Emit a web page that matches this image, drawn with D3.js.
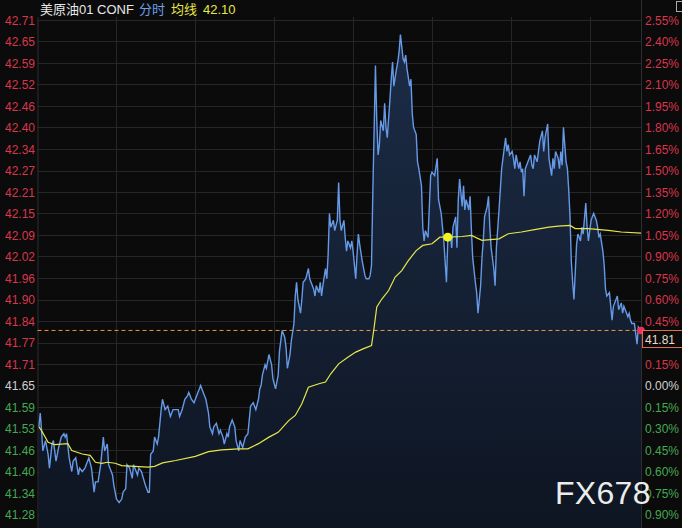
<!DOCTYPE html>
<html><head><meta charset="utf-8">
<script src="https://cdn.jsdelivr.net/npm/d3@7/dist/d3.min.js"></script>
<style>
html,body{margin:0;padding:0;background:#0b0b0c;}
svg{display:block;}
text{font-family:"Liberation Sans",Arial,sans-serif;}
</style></head>
<body>
<svg id="chart" width="682" height="528"></svg>
<script>
// ---- data ----
const prevClose = 41.65;
const lastPrice = 41.81;
const title = "美原油01 CONF";
const legendLine = "分时";
const legendAvg = "均线";
const legendAvgValue = "42.10";

const times = [1,2,3,4,6,8,9,11,12,14,16,18,20,21,22,24,26,27,29,31,32,34,36,37,39,41,43,44,46,48,49,50,51,53,54,57,58,60,62,64,65,67,68,70,72,73,76,77,79,82,84,85,86,88,89,91,92,94,95,97,99,101,103,105,107,108,110,112,114,115,117,119,121,123,124,126,128,130,131,133,134,136,138,139,141,142,144,145,146,148,150,151,153,154,156,158,160,161,162,164,166,168,169,170,171,173,174,176,178,179,181,183,184,186,188,189,190,192,193,195,196,197,198,200,201,202,204,206,207,208,210,211,212,214,215,216,217,219,220,221,222,223,225,226,228,229,230,231,233,234,235,236,238,239,240,242,243,244,245,247,248,249,250,252,253,254,255,257,258,259,260,261,263,264,265,266,268,269,270,271,273,274,275,276,278,279,280,281,283,284,285,286,288,289,290,292,293,294,295,297,298,299,300,302,304,305,307,309,310,311,312,314,315,316,318,319,320,321,323,324,325,326,328,329,330,331,333,334,335,337,338,339,340,342,343,344,345,347,348,349,351,352,353,354,356,357,358,359,361,362,363,364,366,367,368,369,370,371,373,375,376,377,378,380,381,382,384,385,386,388,389,391,392,393,394,396,397,398,399,400,402,403,404,405,406,407,408,409,410,411,413,414,415,417,418,419,421,422,423,425,426,427,428,430,431,432,433,435,436,437,438,440,441,442,444,445,446,447,449,450,451,452,454,455,456,457,459];
const prices = [41.53,41.57,41.52,41.46,41.49,41.45,41.41,41.48,41.49,41.43,41.47,41.50,41.51,41.50,41.51,41.44,41.40,41.43,41.44,41.39,41.41,41.40,41.41,41.42,41.44,41.41,41.34,41.37,41.37,41.42,41.46,41.50,41.46,41.48,41.42,41.39,41.36,41.32,41.31,41.32,41.34,41.35,41.42,41.41,41.38,41.42,41.39,41.41,41.40,41.36,41.34,41.34,41.45,41.46,41.50,41.48,41.50,41.58,41.61,41.58,41.59,41.56,41.58,41.58,41.58,41.56,41.58,41.61,41.62,41.63,41.61,41.60,41.62,41.64,41.65,41.63,41.61,41.57,41.53,41.51,41.53,41.54,41.51,41.52,41.50,41.48,41.51,41.50,41.53,41.55,41.53,41.49,41.46,41.49,41.47,41.50,41.51,41.55,41.59,41.60,41.58,41.61,41.64,41.65,41.68,41.71,41.70,41.74,41.71,41.67,41.64,41.68,41.75,41.81,41.79,41.76,41.70,41.74,41.78,41.83,41.91,41.95,41.90,41.86,41.90,41.95,41.96,41.99,41.96,41.95,41.93,41.91,41.94,41.92,41.95,41.91,41.94,41.99,41.96,42.03,42.15,42.11,42.13,42.10,42.13,42.24,42.13,42.10,42.13,42.08,42.04,42.07,42.05,42.07,42.04,41.96,42.03,42.09,42.06,42.01,41.99,41.97,41.96,41.96,41.97,42.00,42.21,42.58,42.42,42.32,42.35,42.42,42.39,42.47,42.40,42.37,42.48,42.54,42.59,42.52,42.57,42.59,42.62,42.67,42.60,42.59,42.61,42.57,42.52,42.54,42.44,42.40,42.38,42.30,42.28,42.23,42.11,42.07,42.10,42.08,42.17,42.26,42.27,42.26,42.31,42.19,42.15,42.07,42.01,41.95,42.07,42.09,42.05,42.11,42.14,42.05,42.19,42.25,42.17,42.23,42.16,42.19,42.16,42.20,42.10,42.02,41.95,41.92,41.86,41.94,42.02,42.07,42.14,42.17,42.20,42.11,42.05,41.99,41.94,42.05,42.16,42.22,42.28,42.31,42.37,42.33,42.35,42.32,42.33,42.31,42.28,42.32,42.28,42.30,42.27,42.28,42.20,42.28,42.30,42.32,42.29,42.28,42.32,42.30,42.33,42.36,42.39,42.33,42.37,42.41,42.31,42.26,42.31,42.28,42.33,42.31,42.28,42.33,42.29,42.40,42.30,42.28,42.22,42.14,42.01,41.95,41.90,41.98,42.06,42.09,42.07,42.11,42.09,42.18,42.11,42.07,42.13,42.14,42.15,42.13,42.11,42.08,42.09,42.04,42.00,41.93,41.91,41.92,41.88,41.84,41.88,41.90,41.91,41.87,41.89,41.86,41.88,41.87,41.85,41.86,41.84,41.83,41.83,41.80,41.77,41.82,41.81];

const avgTimes = [1,3,8,13,23,26,34,40,44,49,53,59,64,74,84,89,95,105,120,130,140,153,160,168,176,183,191,196,201,206,214,219,223,229,236,242,248,254,256,258,262,267,272,277,282,288,293,300,306,312,323,330,338,351,358,368,378,389,396,405,409,419,434,444,459];
const avgPrices = [41.530,41.519,41.485,41.478,41.481,41.461,41.451,41.447,41.427,41.424,41.427,41.424,41.417,41.415,41.413,41.415,41.425,41.432,41.444,41.458,41.463,41.466,41.466,41.481,41.500,41.514,41.548,41.563,41.597,41.645,41.655,41.660,41.684,41.713,41.732,41.747,41.757,41.766,41.819,41.878,41.902,41.926,41.965,41.984,42.013,42.042,42.057,42.062,42.081,42.081,42.083,42.086,42.072,42.076,42.091,42.096,42.103,42.110,42.113,42.115,42.106,42.106,42.101,42.096,42.093];
const markerTime = 312;

const priceTicks = ["42.71","42.65","42.59","42.52","42.46","42.40","42.34","42.27","42.21","42.15","42.09","42.02","41.96","41.90","41.84","41.77","41.71","41.65","41.59","41.53","41.46","41.40","41.34","41.28"];
const pctTicks = [2.55,2.40,2.25,2.10,1.95,1.80,1.65,1.50,1.35,1.20,1.05,0.90,0.75,0.60,0.45,0.30,0.15,0.00,-0.15,-0.30,-0.45,-0.60,-0.75,-0.90];
const hourTicks = [60,120,180,240,300,360,420];
const sessionMinutes = 459;

// ---- layout ----
const svg = d3.select("#chart");
const L = 37.5, R = 641, T = 17, B = 528;
const x = d3.scaleLinear().domain([0, sessionMinutes]).range([L + 0.1, R]);
const yPct = d3.scaleLinear().domain([2.55, -0.90]).range([20, 514.5]);
const y = p => yPct((p / prevClose - 1) * 100);

const red = "#d9364b", green = "#45a852", neutral = "#cfcfcf";
const colorFor = v => v > 0.0001 ? red : (v < -0.0001 ? green : neutral);

// grid
const grid = svg.append("g");
grid.selectAll("line.h").data(pctTicks).join("line")
  .attr("x1", L).attr("x2", R)
  .attr("y1", d => Math.round(yPct(d)) + 0.5).attr("y2", d => Math.round(yPct(d)) + 0.5)
  .attr("stroke", "#262628").attr("stroke-width", 1);
grid.selectAll("line.v").data(hourTicks).join("line")
  .attr("x1", d => Math.round(x(d)) + 0.5).attr("x2", d => Math.round(x(d)) + 0.5)
  .attr("y1", T).attr("y2", B)
  .attr("stroke", "#262628").attr("stroke-width", 1);
// axis borders
svg.append("line").attr("x1", L + 0.5).attr("x2", L + 0.5).attr("y1", T).attr("y2", B).attr("stroke", "#2e2e30");
svg.append("line").attr("x1", R + 0.5).attr("x2", R + 0.5).attr("y1", 0).attr("y2", B).attr("stroke", "#2e2e30");

// area
const defs = svg.append("defs");
const grad = defs.append("linearGradient").attr("id", "fillGrad")
  .attr("gradientUnits", "userSpaceOnUse").attr("x1", 0).attr("x2", 0).attr("y1", 20).attr("y2", B);
grad.append("stop").attr("offset", "0%").attr("stop-color", "#1c2d48");
grad.append("stop").attr("offset", "100%").attr("stop-color", "#0e1522");

const pts = times.map((t, i) => ({t, p: prices[i]}));
svg.append("path").datum(pts)
  .attr("d", d3.area().x(d => x(d.t)).y0(B).y1(d => y(d.p)))
  .attr("fill", "url(#fillGrad)");

// last price dashed line
svg.append("line").attr("x1", L).attr("x2", R)
  .attr("y1", y(lastPrice)).attr("y2", y(lastPrice))
  .attr("stroke", "#e39a45").attr("stroke-width", 1).attr("stroke-dasharray", "4,3");

// price line
svg.append("path").datum(pts)
  .attr("d", d3.line().x(d => x(d.t)).y(d => y(d.p)))
  .attr("fill", "none").attr("stroke", "#6699e6").attr("stroke-width", 1.4);

// average line
const apts = avgTimes.map((t, i) => ({t, p: avgPrices[i]}));
svg.append("path").datum(apts)
  .attr("d", d3.line().x(d => x(d.t)).y(d => y(d.p)))
  .attr("fill", "none").attr("stroke", "#e6e64a").attr("stroke-width", 1.2);

// marker on average line
const mi = avgTimes.indexOf(markerTime);
svg.append("circle").attr("cx", x(markerTime)).attr("cy", y(avgPrices[mi]))
  .attr("r", 4.5).attr("fill", "#f2f21e");

// last point dot
svg.append("circle").attr("cx", x(times[times.length - 1])).attr("cy", y(prices[prices.length - 1]))
  .attr("r", 3.8).attr("fill", "#f0325a");

// left axis labels
svg.append("g").selectAll("text").data(priceTicks).join("text")
  .attr("x", 35).attr("y", (d, i) => yPct(pctTicks[i]) + 4.5)
  .attr("text-anchor", "end").attr("font-size", 12)
  .attr("fill", (d, i) => colorFor(pctTicks[i])).text(d => d);

// right axis labels (the one under the last-price box is covered, as in the reference)
const ly = y(lastPrice);
svg.append("g").selectAll("text").data(pctTicks.filter(d => Math.abs(yPct(d) + 4.5 - (ly + 9)) > 9)).join("text")
  .attr("x", 645).attr("y", d => yPct(d) + 4.5)
  .attr("font-size", 12)
  .attr("fill", d => colorFor(d)).text(d => Math.abs(d).toFixed(2) + "%");

// last price box
svg.append("rect").attr("x", 642.5).attr("y", Math.round(ly) + 0.5).attr("width", 45).attr("height", 17)
  .attr("fill", "#0b0b0c").attr("stroke", "#e0704a").attr("stroke-width", 1);
svg.append("text").attr("x", 645).attr("y", Math.round(ly) + 13.5).attr("font-size", 12)
  .attr("fill", "#e8dcc8").text(lastPrice.toFixed(2));

// header
const hdr = svg.append("text").attr("x", 40).attr("y", 14).attr("font-size", 13)
  .style("font-family", "'Liberation Sans','Noto Sans CJK SC',sans-serif");
hdr.append("tspan").attr("fill", "#e8e8e8").text(title);
hdr.append("tspan").attr("dx", 5).attr("fill", "#6f9fe8").text(legendLine);
hdr.append("tspan").attr("dx", 6).attr("fill", "#e6e64a").text(legendAvg);
hdr.append("tspan").attr("dx", 6).attr("fill", "#e6e64a").text(legendAvgValue);

// small icon top-right
svg.append("rect").attr("x", 676.5).attr("y", 1.5).attr("width", 7).attr("height", 10)
  .attr("fill", "none").attr("stroke", "#aaaaaa");

// watermark
svg.append("text").attr("x", 555).attr("y", 503.5).attr("font-size", 32)
  .attr("fill", "#ececec").attr("letter-spacing", 0.3).text("FX678");
</script>
</body></html>
